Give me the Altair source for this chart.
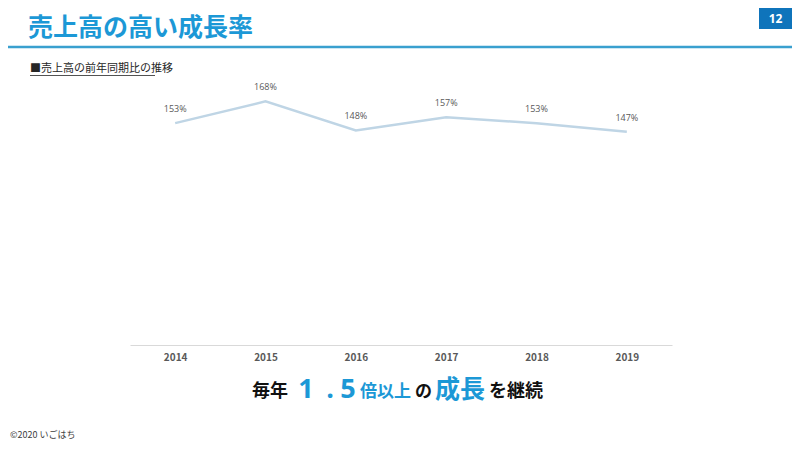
import altair as alt
import pandas as pd

years = ["2014", "2015", "2016", "2017", "2018", "2019"]
growth = [153, 168, 148, 157, 153, 147]
labels = ["153%", "168%", "148%", "157%", "153%", "147%"]

title_text = "売上高の高い成長率"
subtitle_text = "■売上高の前年同期比の推移"
page_no = "12"
footer_text = "©2020 いごはち"

df = pd.DataFrame({"year": years, "growth": growth, "label": labels})

JP = "Noto Sans CJK JP"
BLUE = "#1c98d6"
one = alt.Data(values=[{}])

base = alt.Chart(df)

x_enc = alt.X(
    "year:O",
    sort=years,
    scale=alt.Scale(type="point", padding=0.5),
    axis=alt.Axis(
        title=None, labelAngle=0, ticks=False, grid=False,
        domainColor="#d9d9d9", domainWidth=1.2,
        labelFont=JP, labelFontWeight="bold", labelFontSize=10,
        labelColor="#595959", labelPadding=7,
    ),
)
y_enc = alt.Y("growth:Q", scale=alt.Scale(domain=[0, 200]), axis=None)

line = base.mark_line(color="#bfd5e5", strokeWidth=2.5).encode(x=x_enc, y=y_enc)
pts_text = base.mark_text(
    dy=-14, font="Open Sans", fontSize=9, color="#595959"
).encode(x=x_enc, y=y_enc, text="label:N")


def txt(s, x, y, size, color, weight="normal", align="left", baseline="alphabetic", font=JP):
    return alt.Chart(one).mark_text(
        text=s, align=align, baseline=baseline, font=font,
        fontSize=size, fontWeight=weight, color=color,
    ).encode(x=alt.value(x), y=alt.value(y))


title = txt(title_text, -102, -19, 25, BLUE, "bold")
header_rule = alt.Chart(one).mark_rule(color="#3aa0cf", strokeWidth=2.5).encode(
    x=alt.value(-130), x2=alt.value(670), y=alt.value(-8)
)
page_box = alt.Chart(one).mark_rect(color="#0f74bb").encode(
    x=alt.value(629), x2=alt.value(662), y=alt.value(-47), y2=alt.value(-26)
)
page_txt = txt(page_no, 645.5, -36.5, 12, "white", "bold", align="center",
               baseline="middle", font="Open Sans")

subtitle = txt(subtitle_text, -100, 17, 11, "#262626")
sub_rule = alt.Chart(one).mark_rule(color="#262626", strokeWidth=0.8).encode(
    x=alt.value(-100), x2=alt.value(25), y=alt.value(20.5)
)

BY = 342
b1 = txt("毎年", 122, BY, 18, "#111111", "bold")
b2 = txt("1", 176, BY + 1, 27, BLUE, "bold", align="center", font="Open Sans")
b3 = txt(".", 200, BY + 1, 27, BLUE, "bold", align="center", font="Open Sans")
b4 = txt("5", 218, BY + 1, 27, BLUE, "bold", align="center", font="Open Sans")
b5 = txt("倍以上", 230, BY, 17, BLUE, "bold")
b6 = txt("の", 285, BY, 17, "#111111", "bold")
b7 = txt("成長", 305, BY + 1, 25, BLUE, "bold")
b8 = txt("を継続", 359, BY, 18, "#111111", "bold")

footer = txt(footer_text, -120, 380, 9, "#404040", baseline="middle")

chart = alt.layer(
    line, pts_text, title, header_rule, page_box, page_txt, subtitle, sub_rule,
    b1, b2, b3, b4, b5, b6, b7, b8, footer,
).properties(
    width=542, height=290,
    autosize=alt.AutoSizeParams(type="none"),
    padding={"left": 122, "top": 47, "right": 120, "bottom": 97},
    background="white",
).configure_view(stroke=None)

chart.save("out.html", embed_options={"renderer": "svg", "actions": False})
